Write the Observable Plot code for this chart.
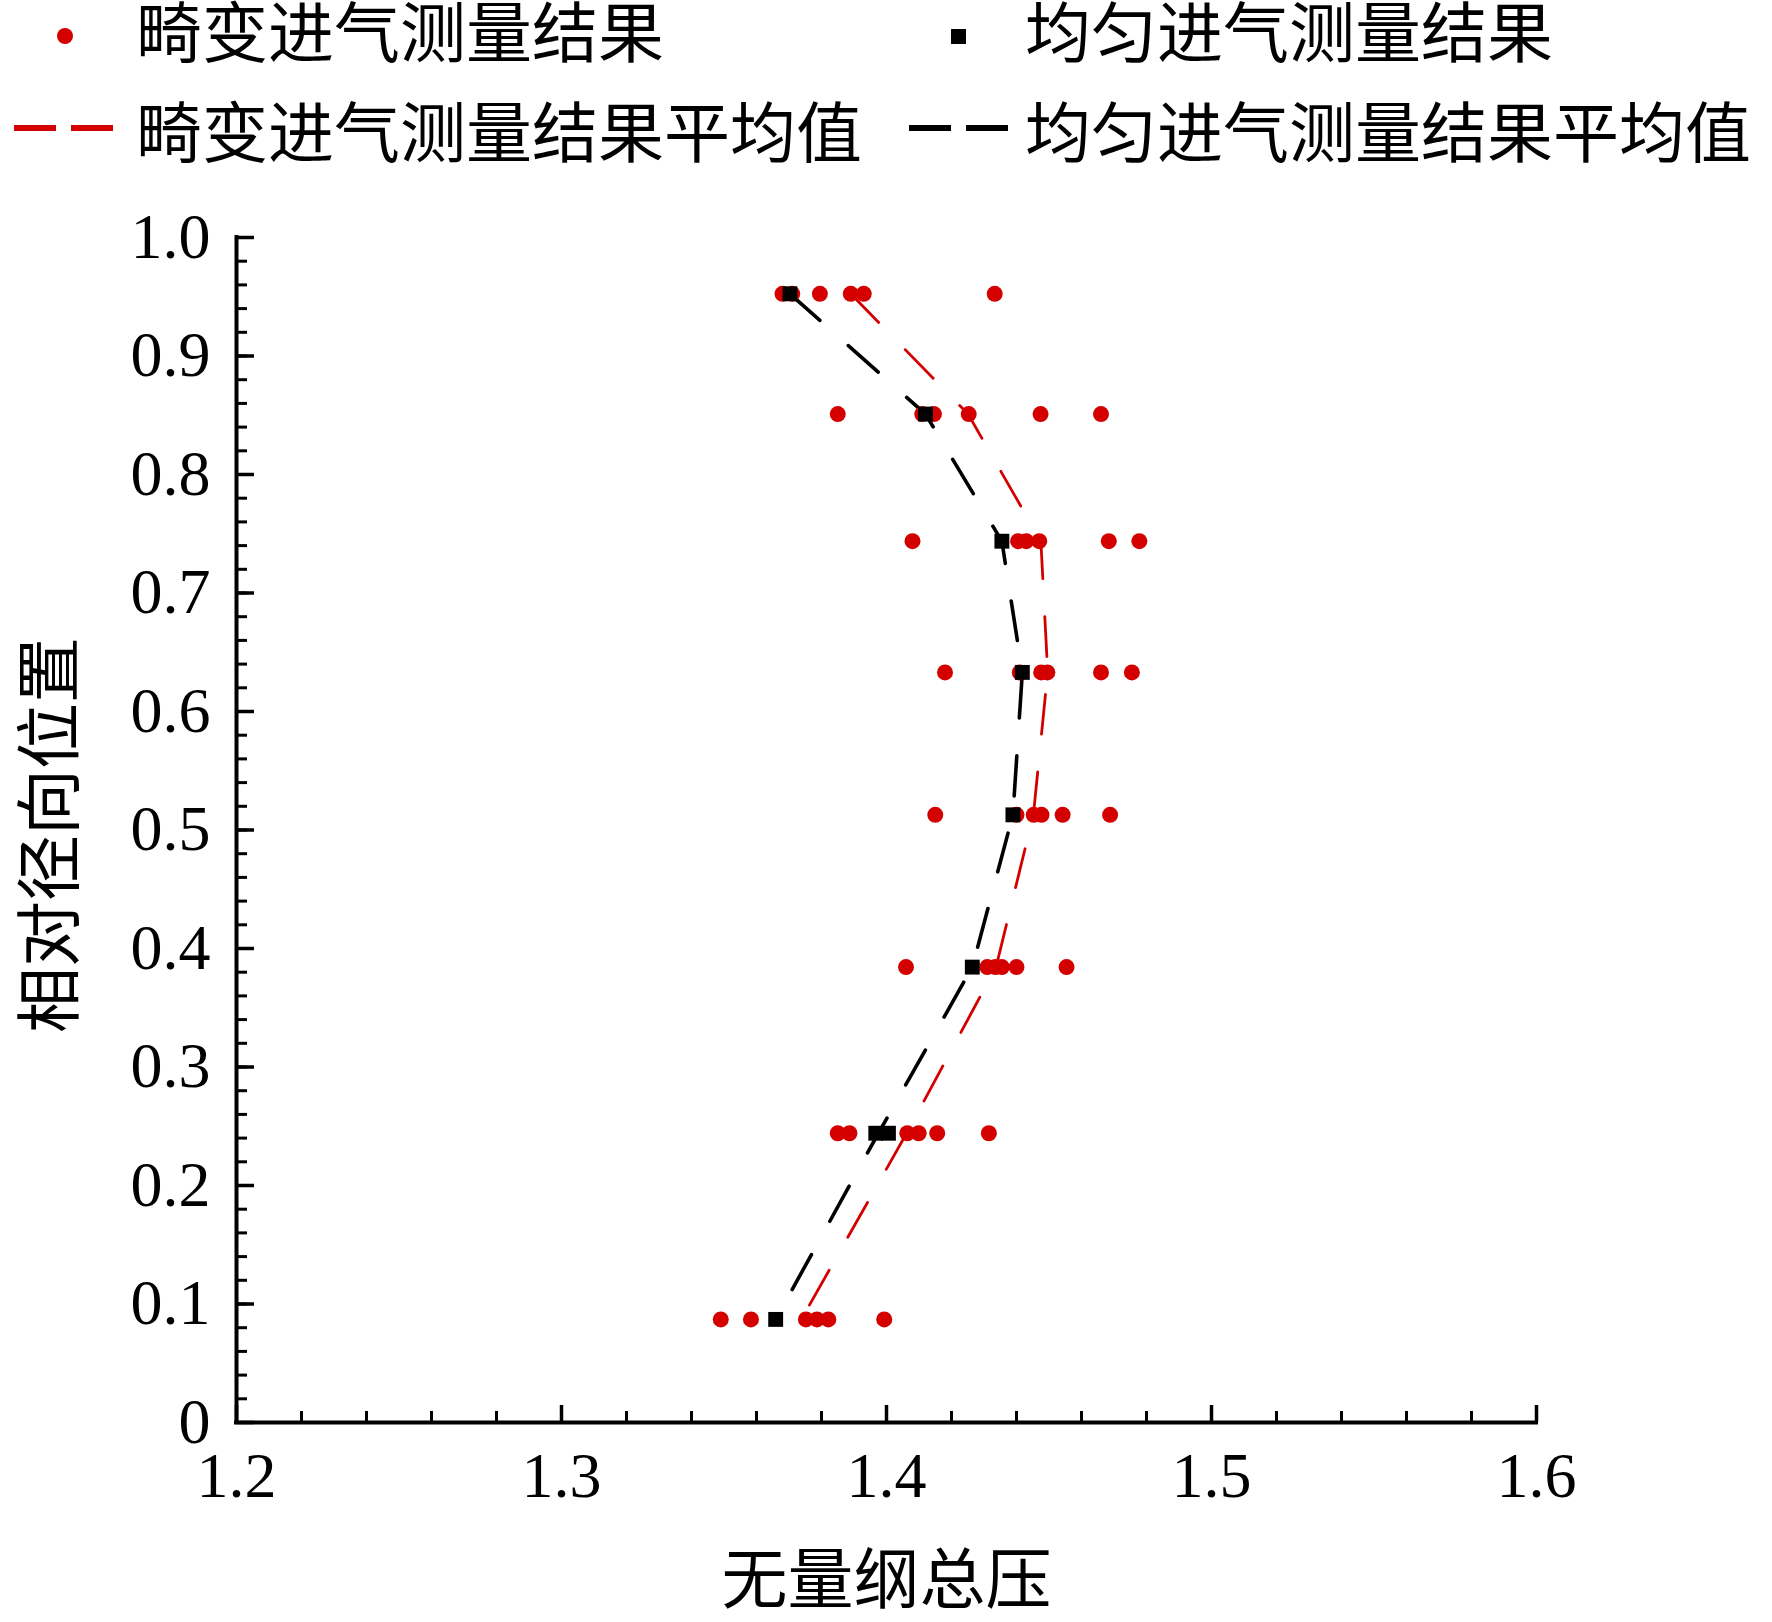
<!DOCTYPE html>
<html>
<head>
<meta charset="utf-8">
<script src="https://cdn.jsdelivr.net/npm/d3@7"></script>
<script src="https://cdn.jsdelivr.net/npm/@observablehq/plot@0.6"></script>
<style>
  html, body { margin: 0; padding: 0; background: #fff; }
  #wrap { width: 1772px; height: 1622px; position: relative; overflow: hidden; }
  #legend { position: relative; width: 1772px; height: 180px; font-family: 'Noto Sans CJK SC', sans-serif; font-size: 66px; color: #000; }
  .lt { position: absolute; height: 48px; line-height: 48px; white-space: nowrap; }
  .sym { position: absolute; }
</style>
</head>
<body>
<div id="wrap">
  <div id="legend"></div>
  <div id="chart"></div>
</div>
<script>
// ---- data ----
const rowPositions = [0.9525, 0.851, 0.7437, 0.633, 0.5128, 0.3843, 0.2441, 0.087];

// distorted-inlet measurements (red dots), one array per radial row
const distortedRow1 = [1.368, 1.371, 1.3795, 1.389, 1.393, 1.4333];
const distortedRow2 = [1.385, 1.411, 1.4146, 1.4253, 1.4474, 1.466];
const distortedRow3 = [1.408, 1.4405, 1.443, 1.447, 1.4684, 1.4778];
const distortedRow4 = [1.418, 1.441, 1.4476, 1.4495, 1.466, 1.4755];
const distortedRow5 = [1.415, 1.440, 1.4453, 1.4477, 1.4542, 1.4688];
const distortedRow6 = [1.406, 1.431, 1.4335, 1.4355, 1.440, 1.4554];
const distortedRow7 = [1.385, 1.3886, 1.4064, 1.4099, 1.4156, 1.4315];
const distortedRow8 = [1.349, 1.3583, 1.3752, 1.3786, 1.3821, 1.3993];
const distortedRows = [distortedRow1, distortedRow2, distortedRow3, distortedRow4,
                       distortedRow5, distortedRow6, distortedRow7, distortedRow8];

// uniform-inlet measurements (black squares)
const uniformX = [1.3703, 1.412, 1.4355, 1.4418, 1.4389, 1.4264, 1.3967, 1.4006, 1.3659];
const uniformY = [0.9525, 0.851, 0.7437, 0.633, 0.5128, 0.3843, 0.2441, 0.2441, 0.087];

// mean lines
const distortedMean = [1.389, 1.4251, 1.4475, 1.4496, 1.4452, 1.4337, 1.4062, 1.3738];
const uniformMean   = [1.3703, 1.412, 1.4355, 1.4418, 1.4389, 1.4264, 1.3975, 1.3659];

// axes
const xTicks = [1.2, 1.3, 1.4, 1.5, 1.6];
const xTickLabels = ["1.2", "1.3", "1.4", "1.5", "1.6"];
const yTicks = [0, 0.1, 0.2, 0.3, 0.4, 0.5, 0.6, 0.7, 0.8, 0.9, 1.0];
const yTickLabels = ["0", "0.1", "0.2", "0.3", "0.4", "0.5", "0.6", "0.7", "0.8", "0.9", "1.0"];
const xLabel = "无量纲总压";
const yLabel = "相对径向位置";
const legendLabels = ["畸变进气测量结果", "均匀进气测量结果", "畸变进气测量结果平均值", "均匀进气测量结果平均值"];

const RED = "#d40000";
const BLACK = "#000";

// ---- tables built from arrays ----
const redDots = distortedRows.flatMap((row, i) => row.map(v => ({x: v, y: rowPositions[i]})));
const blackDots = uniformX.map((v, i) => ({x: v, y: uniformY[i]}));
const redLine = distortedMean.map((v, i) => ({x: v, y: rowPositions[i]}));
const blackLine = uniformMean.map((v, i) => ({x: v, y: rowPositions[i]}));

const xMinor = d3.range(0, 21).map(i => 1.2 + i * 0.02);
const yMinor = d3.range(0, 51).map(i => i * 0.02);

// ---- legend ----
const legend = document.getElementById("legend");
legend.innerHTML = `
  <div class="sym" style="left:57px;top:28px;width:16px;height:16px;border-radius:50%;background:${RED}"></div>
  <div class="lt" style="left:136px;top:4px">${legendLabels[0]}</div>
  <div class="sym" style="left:951px;top:29px;width:15px;height:15px;background:${BLACK}"></div>
  <div class="lt" style="left:1025px;top:4px">${legendLabels[1]}</div>
  <div class="sym" style="left:14px;top:125px;width:42px;height:6px;background:${RED}"></div>
  <div class="sym" style="left:71px;top:125px;width:42px;height:6px;background:${RED}"></div>
  <div class="lt" style="left:136px;top:104px">${legendLabels[2]}</div>
  <div class="sym" style="left:909px;top:125px;width:42px;height:6px;background:${BLACK}"></div>
  <div class="sym" style="left:966px;top:125px;width:42px;height:6px;background:${BLACK}"></div>
  <div class="lt" style="left:1025px;top:104px">${legendLabels[3]}</div>
`;

// ---- chart ----
const chart = Plot.plot({
  width: 1772,
  height: 1442,
  marginLeft: 236,
  marginRight: 236,
  marginTop: 57,
  marginBottom: 200,
  style: {fontFamily: "'Liberation Serif', 'Noto Sans CJK SC', serif", fontSize: "64px", color: "#000", background: "#fff", overflow: "visible"},
  x: {domain: [1.2, 1.6], nice: false},
  y: {domain: [0, 1], nice: false},
  marks: [
    // minor ticks
    Plot.axisX({anchor: "bottom", ticks: xMinor, tickSize: -11, fill: "none", label: null, strokeWidth: 3}),
    Plot.axisY({anchor: "left", ticks: yMinor, tickSize: -11, fill: "none", label: null, strokeWidth: 3}),
    // major ticks + labels
    Plot.axisX({anchor: "bottom", ticks: xTicks, tickSize: -17, tickPadding: 46, strokeWidth: 3.5,
      tickFormat: d => xTickLabels[xTicks.findIndex(t => Math.abs(t - d) < 1e-9)], label: null}),
    Plot.axisY({anchor: "left", ticks: yTicks, tickSize: -18, tickPadding: 44, strokeWidth: 3.5,
      tickFormat: d => yTickLabels[yTicks.findIndex(t => Math.abs(t - d) < 1e-9)], label: null}),
    // axis lines
    Plot.ruleX([1.2], {stroke: BLACK, strokeWidth: 4, strokeLinecap: "square"}),
    Plot.ruleY([0], {stroke: BLACK, strokeWidth: 4, strokeLinecap: "square"}),
    // mean lines
    Plot.line(redLine, {x: "x", y: "y", stroke: RED, strokeWidth: 2.8, strokeDasharray: "40,38"}),
    Plot.line(blackLine, {x: "x", y: "y", stroke: BLACK, strokeWidth: 3.6, strokeDasharray: "40,38"}),
    // measurement points
    Plot.dot(redDots, {x: "x", y: "y", r: 8, fill: RED, stroke: null}),
    Plot.dot(blackDots, {x: "x", y: "y", r: 8.4, symbol: "square", fill: BLACK, stroke: null}),
    // axis titles
    Plot.text([xLabel], {frameAnchor: "bottom", textAnchor: "middle", dy: 180, fontSize: 66, fontFamily: "'Noto Sans CJK SC', sans-serif", fill: BLACK}),
    Plot.text([yLabel], {frameAnchor: "left", textAnchor: "middle", dx: -185, dy: 5, rotate: -90, fontSize: 66, fontFamily: "'Noto Sans CJK SC', sans-serif", fill: BLACK})
  ]
});
document.getElementById("chart").appendChild(chart);
</script>
</body>
</html>
